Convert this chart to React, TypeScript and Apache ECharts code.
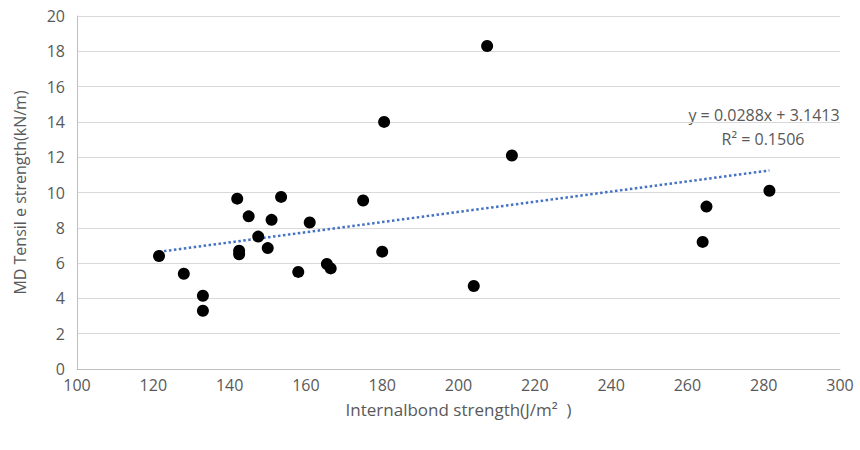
import React, { useEffect, useRef } from "react";
import * as echarts from "echarts";

const xValues = [121.5, 128, 133, 133, 142, 142.5, 142.5, 145, 147.5, 150, 151, 153.5, 158, 161, 165.5, 166.5, 175, 180, 180.5, 204, 207.5, 214, 264, 265, 281.5];
const yValues = [6.4, 5.4, 4.15, 3.3, 9.65, 6.7, 6.5, 8.65, 7.5, 6.85, 8.45, 9.75, 5.5, 8.3, 5.95, 5.7, 9.55, 6.65, 14.0, 4.7, 18.3, 12.1, 7.2, 9.2, 10.1];
const slope = 0.0288;
const intercept = 3.1413;
const eqText = "y = 0.0288x + 3.1413";
const r2Text = "R² = 0.1506";
const xTicks = [100, 120, 140, 160, 180, 200, 220, 240, 260, 280, 300];
const yTicks = [0, 2, 4, 6, 8, 10, 12, 14, 16, 18, 20];

export default function App() {
  const ref = useRef<HTMLDivElement>(null);
  useEffect(() => {
    if (!ref.current) return;
    const chart = echarts.init(ref.current, null, { renderer: "svg" });
    const points = xValues.map((x, i) => [x, yValues[i]]);
    const xMin = Math.min(...xValues);
    const xMax = Math.max(...xValues);
    const trend = [
      [xMin, slope * xMin + intercept],
      [xMax, slope * xMax + intercept],
    ];
    const font = "'Open Sans', sans-serif";
    chart.setOption({
      animation: false,
      backgroundColor: "#ffffff",
      grid: { left: 77, right: 20, top: 16, bottom: 81, containLabel: false },
      xAxis: {
        type: "value",
        min: xTicks[0],
        max: xTicks[xTicks.length - 1],
        interval: 20,
        name: "Internalbond strength(J/m²  )",
        nameLocation: "middle",
        nameGap: 32,
        nameTextStyle: { color: "#595959", fontSize: 17, fontFamily: font },
        axisLine: { show: true, lineStyle: { color: "#bfbfbf", width: 1 } },
        axisTick: { show: false },
        splitLine: { show: false },
        axisLabel: { color: "#595959", fontSize: 16, fontFamily: font, margin: 8 },
      },
      yAxis: {
        type: "value",
        min: yTicks[0],
        max: yTicks[yTicks.length - 1],
        interval: 2,
        name: "MD Tensil e strength(kN/m)",
        nameLocation: "middle",
        nameGap: 49,
        nameTextStyle: { color: "#595959", fontSize: 16, fontFamily: font },
        axisLine: { show: true, lineStyle: { color: "#bfbfbf", width: 1 } },
        axisTick: { show: false },
        splitLine: { show: true, lineStyle: { color: "#d9d9d9", width: 1 } },
        axisLabel: { color: "#595959", fontSize: 16, fontFamily: font, margin: 12 },
      },
      series: [
        {
          type: "line",
          data: trend,
          symbol: "none",
          lineStyle: { color: "#4472C4", width: 2.5, type: [2.5, 2.5] },
          z: 1,
        },
        {
          type: "scatter",
          data: points,
          symbol: "circle",
          symbolSize: 12,
          itemStyle: { color: "#000000", opacity: 1 },
          z: 2,
        },
      ],
      graphic: [
        {
          type: "text",
          x: 764,
          y: 115,
          style: { text: eqText, fill: "#595959", fontSize: 16, fontFamily: font, align: "center", verticalAlign: "middle" },
        },
        {
          type: "text",
          x: 763,
          y: 139,
          style: { text: r2Text, fill: "#595959", fontSize: 16, fontFamily: font, align: "center", verticalAlign: "middle" },
        },
      ],
    });
    return () => chart.dispose();
  }, []);
  return <div ref={ref} style={{ width: 860, height: 450, position: "absolute", left: 0, top: 0 }} />;
}
